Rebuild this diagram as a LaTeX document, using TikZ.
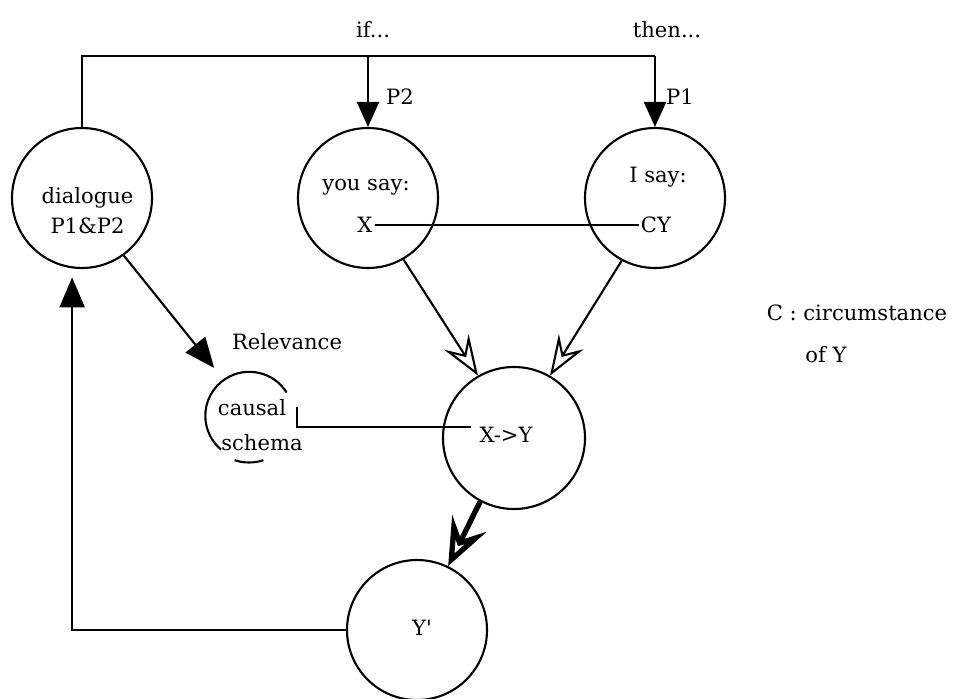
\documentclass[tikz,border=0pt]{standalone}
\usepackage{fontspec}
\setmainfont{DejaVu Serif}
\usetikzlibrary{arrows.meta, positioning, calc}

\begin{document}
\begin{tikzpicture}[
  every node/.style={font=\fontsize{12}{14}\selectfont},
  state/.style={
    draw, circle, line width=1.2pt,
    minimum size=2.8cm, inner sep=0pt
  },
  hub/.style={circle, minimum size=1.76cm, inner sep=0pt},
  word/.style={inner sep=1pt, align=center},
  wire/.style={line width=1.2pt},
  fed/.style={wire, -{Triangle[length=0.5cm, width=0.44cm]}},
  fedbig/.style={wire, -{Triangle[length=0.6cm, width=0.5cm]}},
  infer/.style={wire, -{Stealth[open, length=0.8cm, width=0.58cm, inset=0.3cm]}},
  yield/.style={line width=3pt, -{Stealth[open, length=0.95cm, width=0.76cm, inset=0.36cm]}},
]
\useasboundingbox (0,0) rectangle (19.08,13.96);

%% ── Speech circles ────────────────────────────────────────────────────────
\node[state] (dlg)  at (1.64, 10.00) {};
\node[state] (you)  at (7.36, 10.00) {};
\node[state] (isay) at (13.10,10.00) {};
\node[state, minimum size=2.84cm] (xy) at (10.28, 5.20) {};
\node[state] (yp)   at (8.34, 1.36) {};

\node[word] (dlgTxt)  at (1.75, 9.74)  {dialogue\\[3pt]P1\&P2};
\node[word] (youTxt)  at (7.32, 10.22) {you say:};
\node[word] (X)       at (7.30, 9.46)  {X};
\node[word] (isayTxt) at (13.16,10.42) {I say:};
\node[word] (CY)      at (13.12,9.46)  {CY};
\node[word] (xyTxt)   at (10.12,5.26)  {X->Y};
\node[word] (ypTxt)   at (8.44, 1.40)  {Y\textquotesingle};

%% ── Causal schema ─────────────────────────────────────────────────────────
\node[hub] (schema) at (4.98, 5.64) {};
\node[word] (causal) at (5.04, 5.80) {causal};
\node[word] (schemaTxt) at (5.24, 5.10) {schema};
\draw[wire] (schema.32) arc[start angle=32, end angle=230, radius=0.88cm];
\draw[wire] (schema.center) ++(252:0.93cm) arc[start angle=252, end angle=288, radius=0.93cm];
\coordinate (tick) at (5.94, 5.82);
\draw[wire] (tick) |- ([xshift=-0.12cm, yshift=0.16cm]xyTxt.west);

%% ── Top bus: if ... then ──────────────────────────────────────────────────
\coordinate (bus) at (0, 12.84);
\draw[wire] (dlg.north) -- (dlg.north |- bus) -- (isay.north |- bus);
\draw[fed] (you.north |- bus) -- (you.north);
\draw[fed] (isay.north |- bus) -- (isay.north);

\node[word] (if)   at (7.46, 13.36)  {if...};
\node[word] (then) at (13.34, 13.36) {then...};
\node[word] (P2)   at (8.00, 12.02)  {P2};
\node[word] (P1)   at (13.60, 12.02) {P1};

%% ── Inference ─────────────────────────────────────────────────────────────
\draw[wire] (X) -- (CY);
\draw[infer] (you.-60) -- (xy.120);
\draw[infer] (isay.-118) -- (xy.60);
\draw[yield] (xy.-118) -- (yp.64);

%% ── Feedback loop ─────────────────────────────────────────────────────────
\draw[fedbig, shorten >=0.18cm] (yp.west) -| (dlg.-98);
\draw[fedbig, shorten >=0.3cm] (dlg.-54) -- (schema.125);
\node[word] (rel) at (5.74, 7.12) {Relevance};

%% ── Side note ─────────────────────────────────────────────────────────────
\node[word] (note) at (17.14, 7.70) {C : circumstance};
\node[word] (noteY) at (16.52, 6.86) {of Y};

\end{tikzpicture}
\end{document}
